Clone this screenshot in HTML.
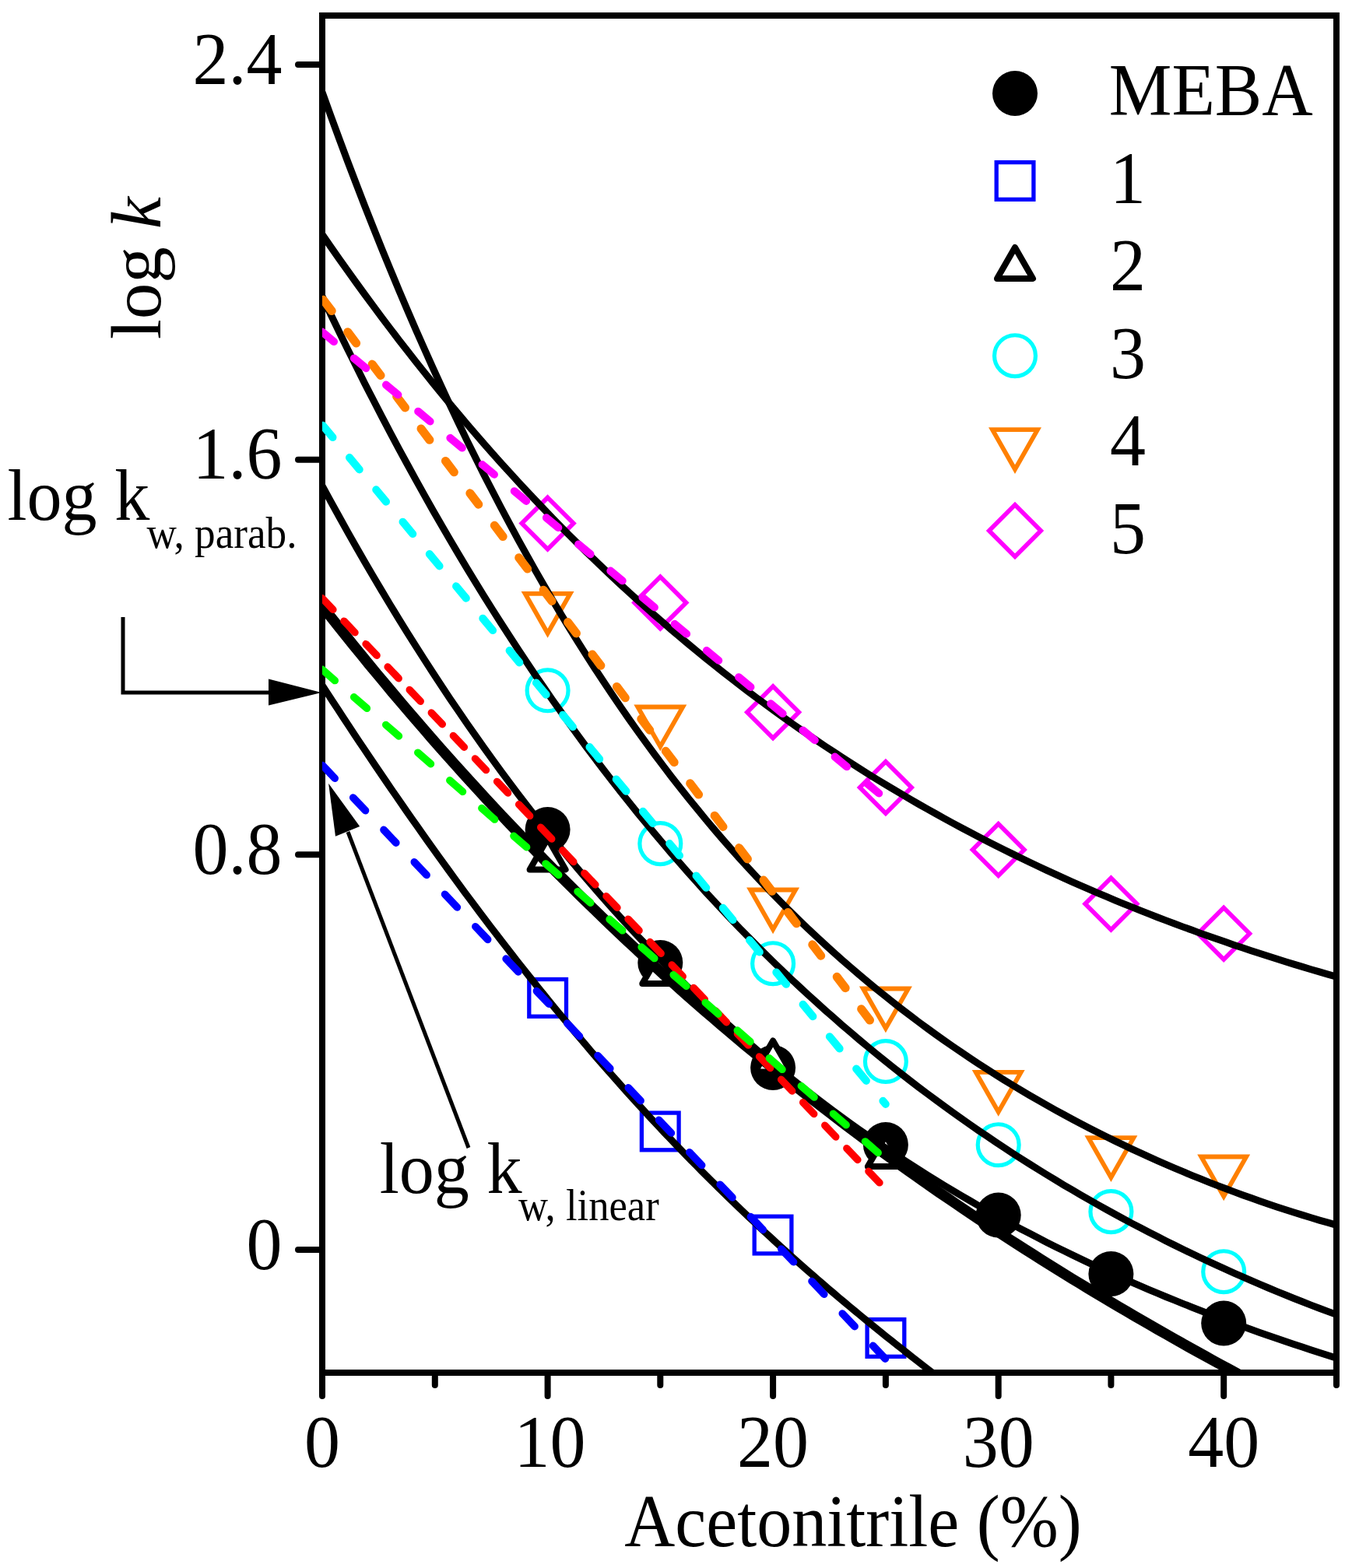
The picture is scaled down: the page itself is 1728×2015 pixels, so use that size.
<!DOCTYPE html>
<html><head><meta charset="utf-8"><title>log k vs Acetonitrile</title>
<style>html,body{margin:0;padding:0;background:#fff;}svg{display:block;}text{font-family:"Liberation Serif", "Times New Roman", serif;}</style>
</head><body>
<svg width="1728" height="2015" viewBox="0 0 1728 2015">
<rect width="100%" height="100%" fill="#fff"/>
<defs><clipPath id="pc"><rect x="414" y="20" width="1303" height="1744"/></clipPath></defs>
<rect x="414" y="20" width="1303" height="1744" fill="none" stroke="#000" stroke-width="8"/>
<circle cx="703.6" cy="1066" r="29" fill="#000"/>
<circle cx="848.3" cy="1237" r="29" fill="#000"/>
<circle cx="993.1" cy="1372" r="29" fill="#000"/>
<circle cx="1137.9" cy="1471" r="29" fill="#000"/>
<circle cx="1282.7" cy="1561.5" r="29" fill="#000"/>
<circle cx="1427.4" cy="1637" r="29" fill="#000"/>
<circle cx="1572.2" cy="1700.5" r="29" fill="#000"/>
<rect x="679.8" y="1258.5" width="47.7" height="47.7" fill="none" stroke="#0000FF" stroke-width="5.3"/>
<rect x="824.4" y="1430.1" width="47.7" height="47.7" fill="none" stroke="#0000FF" stroke-width="5.3"/>
<rect x="969.2" y="1563.2" width="47.7" height="47.7" fill="none" stroke="#0000FF" stroke-width="5.3"/>
<rect x="1114.1" y="1695.6" width="47.7" height="47.7" fill="none" stroke="#0000FF" stroke-width="5.3"/>
<path d="M703.6,1077.5 L726.6,1117.4 L680.6,1117.4 Z" fill="#fff" stroke="#000" stroke-width="8" stroke-linejoin="round"/>
<path d="M848.3,1224.2 L871.3,1264.1 L825.3,1264.1 Z" fill="#fff" stroke="#000" stroke-width="8" stroke-linejoin="round"/>
<path d="M993.1,1337.5 L1016.1,1377.4 L970.1,1377.4 Z" fill="#fff" stroke="#000" stroke-width="8" stroke-linejoin="round"/>
<path d="M1137.9,1459.2 L1160.9,1499.1 L1114.9,1499.1 Z" fill="#fff" stroke="#000" stroke-width="8" stroke-linejoin="round"/>
<circle cx="703.6" cy="887.3" r="26.45" fill="none" stroke="#00FFFF" stroke-width="5.2"/>
<circle cx="848.3" cy="1084.1" r="26.45" fill="none" stroke="#00FFFF" stroke-width="5.2"/>
<circle cx="993.1" cy="1238.2" r="26.45" fill="none" stroke="#00FFFF" stroke-width="5.2"/>
<circle cx="1137.9" cy="1364" r="26.45" fill="none" stroke="#00FFFF" stroke-width="5.2"/>
<circle cx="1282.7" cy="1471.2" r="26.45" fill="none" stroke="#00FFFF" stroke-width="5.2"/>
<circle cx="1427.4" cy="1557.1" r="26.45" fill="none" stroke="#00FFFF" stroke-width="5.2"/>
<circle cx="1572.2" cy="1634.2" r="26.45" fill="none" stroke="#00FFFF" stroke-width="5.2"/>
<path d="M674.6,762.8 L732.6,762.8 L703.6,813.8 Z" fill="none" stroke="#FF8000" stroke-width="5.8" stroke-linejoin="miter"/>
<path d="M819.3,908.5 L877.3,908.5 L848.3,959.5 Z" fill="none" stroke="#FF8000" stroke-width="5.8" stroke-linejoin="miter"/>
<path d="M964.1,1143.5 L1022.1,1143.5 L993.1,1194.5 Z" fill="none" stroke="#FF8000" stroke-width="5.8" stroke-linejoin="miter"/>
<path d="M1108.9,1270.5 L1166.9,1270.5 L1137.9,1321.5 Z" fill="none" stroke="#FF8000" stroke-width="5.8" stroke-linejoin="miter"/>
<path d="M1253.7,1377.9 L1311.7,1377.9 L1282.7,1428.9 Z" fill="none" stroke="#FF8000" stroke-width="5.8" stroke-linejoin="miter"/>
<path d="M1398.4,1462.1 L1456.4,1462.1 L1427.4,1513.1 Z" fill="none" stroke="#FF8000" stroke-width="5.8" stroke-linejoin="miter"/>
<path d="M1543.2,1486.5 L1601.2,1486.5 L1572.2,1537.5 Z" fill="none" stroke="#FF8000" stroke-width="5.8" stroke-linejoin="miter"/>
<path d="M703.6,639.4 L736.8000000000001,672.6 L703.6,705.8000000000001 L670.4,672.6 Z" fill="none" stroke="#FF00FF" stroke-width="5.7" stroke-linejoin="miter"/>
<path d="M848.3,741.1999999999999 L881.5,774.4 L848.3,807.6 L815.0999999999999,774.4 Z" fill="none" stroke="#FF00FF" stroke-width="5.7" stroke-linejoin="miter"/>
<path d="M993.1,882.0999999999999 L1026.3,915.3 L993.1,948.5 L959.9,915.3 Z" fill="none" stroke="#FF00FF" stroke-width="5.7" stroke-linejoin="miter"/>
<path d="M1137.9,978.8 L1171.1000000000001,1012 L1137.9,1045.2 L1104.7,1012 Z" fill="none" stroke="#FF00FF" stroke-width="5.7" stroke-linejoin="miter"/>
<path d="M1282.7,1058.8 L1315.9,1092 L1282.7,1125.2 L1249.5,1092 Z" fill="none" stroke="#FF00FF" stroke-width="5.7" stroke-linejoin="miter"/>
<path d="M1427.4,1128.3 L1460.6000000000001,1161.5 L1427.4,1194.7 L1394.2,1161.5 Z" fill="none" stroke="#FF00FF" stroke-width="5.7" stroke-linejoin="miter"/>
<path d="M1572.2,1166.6 L1605.4,1199.8 L1572.2,1233.0 L1539.0,1199.8 Z" fill="none" stroke="#FF00FF" stroke-width="5.7" stroke-linejoin="miter"/>
<g clip-path="url(#pc)" fill="none" stroke="#000" stroke-width="9" stroke-linejoin="round">
<path d="M414.0,118.4 L424.9,148.8 L435.9,178.6 L446.8,207.9 L457.8,236.7 L468.7,264.9 L479.7,292.7 L490.6,319.9 L501.6,346.6 L512.5,372.9 L523.5,398.7 L534.4,424.0 L545.4,448.8 L556.3,473.2 L567.3,497.2 L578.2,520.7 L589.2,543.7 L600.1,566.4 L611.1,588.6 L622.0,610.4 L633.0,631.8 L643.9,652.8 L654.9,673.4 L665.8,693.6 L676.8,713.4 L687.7,732.9 L698.7,752.0 L709.6,770.7 L720.6,789.1 L731.5,807.1 L742.5,824.8 L753.4,842.1 L764.4,859.2 L775.3,875.8 L786.3,892.2 L797.2,908.3 L808.2,924.1 L819.1,939.5 L830.1,954.7 L841.0,969.5 L852.0,984.1 L862.9,998.4 L873.9,1012.5 L884.8,1026.2 L895.8,1039.7 L906.7,1053.0 L917.7,1066.0 L928.6,1078.7 L939.6,1091.2 L950.5,1103.5 L961.5,1115.5 L972.4,1127.3 L983.4,1138.9 L994.3,1150.2 L1005.3,1161.4 L1016.2,1172.3 L1027.2,1183.0 L1038.1,1193.5 L1049.1,1203.8 L1060.0,1213.9 L1071.0,1223.9 L1081.9,1233.6 L1092.9,1243.2 L1103.8,1252.5 L1114.8,1261.8 L1125.7,1270.8 L1136.7,1279.6 L1147.6,1288.3 L1158.6,1296.9 L1169.5,1305.2 L1180.5,1313.5 L1191.4,1321.5 L1202.4,1329.5 L1213.3,1337.2 L1224.3,1344.9 L1235.2,1352.3 L1246.2,1359.7 L1257.1,1366.9 L1268.1,1374.0 L1279.0,1381.0 L1290.0,1387.8 L1300.9,1394.5 L1311.9,1401.1 L1322.8,1407.6 L1333.8,1413.9 L1344.7,1420.1 L1355.7,1426.3 L1366.6,1432.3 L1377.6,1438.2 L1388.5,1444.0 L1399.5,1449.7 L1410.4,1455.2 L1421.4,1460.7 L1432.3,1466.1 L1443.3,1471.4 L1454.2,1476.6 L1465.2,1481.7 L1476.1,1486.7 L1487.1,1491.6 L1498.0,1496.4 L1509.0,1501.1 L1519.9,1505.7 L1530.9,1510.3 L1541.8,1514.7 L1552.8,1519.1 L1563.7,1523.4 L1574.7,1527.5 L1585.6,1531.6 L1596.6,1535.7 L1607.5,1539.6 L1618.5,1543.5 L1629.4,1547.2 L1640.4,1550.9 L1651.3,1554.5 L1662.3,1558.0 L1673.2,1561.4 L1684.2,1564.8 L1695.1,1568.1 L1706.1,1571.2 L1717.0,1574.3"/>
<path d="M414.0,301.3 L424.9,317.1 L435.9,332.8 L446.8,348.2 L457.8,363.5 L468.7,378.5 L479.7,393.4 L490.6,408.1 L501.6,422.6 L512.5,436.9 L523.5,451.1 L534.4,465.0 L545.4,478.8 L556.3,492.4 L567.3,505.8 L578.2,519.1 L589.2,532.2 L600.1,545.1 L611.1,557.9 L622.0,570.5 L633.0,582.9 L643.9,595.2 L654.9,607.3 L665.8,619.3 L676.8,631.1 L687.7,642.7 L698.7,654.2 L709.6,665.6 L720.6,676.8 L731.5,687.8 L742.5,698.7 L753.4,709.5 L764.4,720.1 L775.3,730.6 L786.3,740.9 L797.2,751.1 L808.2,761.2 L819.1,771.1 L830.1,780.9 L841.0,790.6 L852.0,800.1 L862.9,809.6 L873.9,818.9 L884.8,828.0 L895.8,837.1 L906.7,846.0 L917.7,854.8 L928.6,863.5 L939.6,872.0 L950.5,880.5 L961.5,888.8 L972.4,897.0 L983.4,905.1 L994.3,913.1 L1005.3,921.0 L1016.2,928.8 L1027.2,936.5 L1038.1,944.0 L1049.1,951.5 L1060.0,958.9 L1071.0,966.1 L1081.9,973.3 L1092.9,980.3 L1103.8,987.3 L1114.8,994.2 L1125.7,1001.0 L1136.7,1007.6 L1147.6,1014.2 L1158.6,1020.7 L1169.5,1027.1 L1180.5,1033.5 L1191.4,1039.7 L1202.4,1045.8 L1213.3,1051.9 L1224.3,1057.9 L1235.2,1063.8 L1246.2,1069.6 L1257.1,1075.3 L1268.1,1080.9 L1279.0,1086.5 L1290.0,1092.0 L1300.9,1097.4 L1311.9,1102.8 L1322.8,1108.0 L1333.8,1113.2 L1344.7,1118.3 L1355.7,1123.4 L1366.6,1128.4 L1377.6,1133.3 L1388.5,1138.1 L1399.5,1142.9 L1410.4,1147.6 L1421.4,1152.2 L1432.3,1156.8 L1443.3,1161.3 L1454.2,1165.7 L1465.2,1170.1 L1476.1,1174.4 L1487.1,1178.7 L1498.0,1182.9 L1509.0,1187.0 L1519.9,1191.1 L1530.9,1195.1 L1541.8,1199.1 L1552.8,1203.0 L1563.7,1206.8 L1574.7,1210.6 L1585.6,1214.4 L1596.6,1218.0 L1607.5,1221.7 L1618.5,1225.3 L1629.4,1228.8 L1640.4,1232.3 L1651.3,1235.7 L1662.3,1239.1 L1673.2,1242.4 L1684.2,1245.7 L1695.1,1248.9 L1706.1,1252.1 L1717.0,1255.3"/>
<path d="M414.0,380.9 L424.9,404.0 L435.9,426.7 L446.8,449.1 L457.8,471.1 L468.7,492.9 L479.7,514.3 L490.6,535.4 L501.6,556.3 L512.5,576.8 L523.5,597.0 L534.4,616.9 L545.4,636.6 L556.3,656.0 L567.3,675.0 L578.2,693.8 L589.2,712.4 L600.1,730.6 L611.1,748.6 L622.0,766.4 L633.0,783.8 L643.9,801.0 L654.9,818.0 L665.8,834.7 L676.8,851.2 L687.7,867.4 L698.7,883.4 L709.6,899.2 L720.6,914.7 L731.5,930.0 L742.5,945.1 L753.4,960.0 L764.4,974.6 L775.3,989.0 L786.3,1003.2 L797.2,1017.2 L808.2,1031.0 L819.1,1044.6 L830.1,1058.0 L841.0,1071.2 L852.0,1084.2 L862.9,1097.0 L873.9,1109.6 L884.8,1122.1 L895.8,1134.3 L906.7,1146.4 L917.7,1158.3 L928.6,1170.0 L939.6,1181.6 L950.5,1193.0 L961.5,1204.2 L972.4,1215.2 L983.4,1226.1 L994.3,1236.9 L1005.3,1247.4 L1016.2,1257.9 L1027.2,1268.1 L1038.1,1278.3 L1049.1,1288.2 L1060.0,1298.1 L1071.0,1307.7 L1081.9,1317.3 L1092.9,1326.7 L1103.8,1336.0 L1114.8,1345.1 L1125.7,1354.1 L1136.7,1363.0 L1147.6,1371.8 L1158.6,1380.4 L1169.5,1388.9 L1180.5,1397.3 L1191.4,1405.5 L1202.4,1413.7 L1213.3,1421.7 L1224.3,1429.6 L1235.2,1437.4 L1246.2,1445.1 L1257.1,1452.7 L1268.1,1460.1 L1279.0,1467.5 L1290.0,1474.7 L1300.9,1481.9 L1311.9,1489.0 L1322.8,1495.9 L1333.8,1502.8 L1344.7,1509.5 L1355.7,1516.2 L1366.6,1522.8 L1377.6,1529.2 L1388.5,1535.6 L1399.5,1541.9 L1410.4,1548.1 L1421.4,1554.2 L1432.3,1560.3 L1443.3,1566.2 L1454.2,1572.1 L1465.2,1577.8 L1476.1,1583.5 L1487.1,1589.1 L1498.0,1594.7 L1509.0,1600.1 L1519.9,1605.5 L1530.9,1610.8 L1541.8,1616.0 L1552.8,1621.1 L1563.7,1626.2 L1574.7,1631.2 L1585.6,1636.1 L1596.6,1640.9 L1607.5,1645.7 L1618.5,1650.4 L1629.4,1655.0 L1640.4,1659.6 L1651.3,1664.0 L1662.3,1668.5 L1673.2,1672.8 L1684.2,1677.1 L1695.1,1681.2 L1706.1,1685.4 L1717.0,1689.4"/>
<path d="M414.0,624.3 L424.9,644.4 L435.9,664.3 L446.8,683.9 L457.8,703.2 L468.7,722.2 L479.7,741.0 L490.6,759.4 L501.6,777.7 L512.5,795.6 L523.5,813.3 L534.4,830.7 L545.4,847.9 L556.3,864.8 L567.3,881.4 L578.2,897.9 L589.2,914.0 L600.1,930.0 L611.1,945.6 L622.0,961.1 L633.0,976.3 L643.9,991.3 L654.9,1006.1 L665.8,1020.7 L676.8,1035.0 L687.7,1049.1 L698.7,1063.0 L709.6,1076.7 L720.6,1090.2 L731.5,1103.5 L742.5,1116.6 L753.4,1129.4 L764.4,1142.1 L775.3,1154.6 L786.3,1166.9 L797.2,1179.0 L808.2,1190.9 L819.1,1202.7 L830.1,1214.2 L841.0,1225.6 L852.0,1236.8 L862.9,1247.8 L873.9,1258.7 L884.8,1269.4 L895.8,1279.9 L906.7,1290.3 L917.7,1300.5 L928.6,1310.5 L939.6,1320.4 L950.5,1330.2 L961.5,1339.7 L972.4,1349.2 L983.4,1358.5 L994.3,1367.6 L1005.3,1376.6 L1016.2,1385.5 L1027.2,1394.2 L1038.1,1402.8 L1049.1,1411.3 L1060.0,1419.6 L1071.0,1427.8 L1081.9,1435.9 L1092.9,1443.8 L1103.8,1451.6 L1114.8,1459.3 L1125.7,1466.9 L1136.7,1474.4 L1147.6,1481.7 L1158.6,1489.0 L1169.5,1496.1 L1180.5,1503.1 L1191.4,1510.0 L1202.4,1516.8 L1213.3,1523.5 L1224.3,1530.1 L1235.2,1536.6 L1246.2,1543.0 L1257.1,1549.3 L1268.1,1555.5 L1279.0,1561.6 L1290.0,1567.6 L1300.9,1573.6 L1311.9,1579.4 L1322.8,1585.1 L1333.8,1590.8 L1344.7,1596.4 L1355.7,1601.9 L1366.6,1607.3 L1377.6,1612.6 L1388.5,1617.9 L1399.5,1623.1 L1410.4,1628.2 L1421.4,1633.2 L1432.3,1638.2 L1443.3,1643.1 L1454.2,1647.9 L1465.2,1652.6 L1476.1,1657.3 L1487.1,1661.9 L1498.0,1666.5 L1509.0,1670.9 L1519.9,1675.3 L1530.9,1679.7 L1541.8,1684.0 L1552.8,1688.2 L1563.7,1692.4 L1574.7,1696.5 L1585.6,1700.6 L1596.6,1704.6 L1607.5,1708.5 L1618.5,1712.4 L1629.4,1716.3 L1640.4,1720.0 L1651.3,1723.8 L1662.3,1727.5 L1673.2,1731.1 L1684.2,1734.7 L1695.1,1738.2 L1706.1,1741.7 L1717.0,1745.1"/>
<path d="M415.8,777.4 L425.8,790.2 L435.9,802.8 L445.9,815.3 L455.9,827.8 L466.0,840.1 L476.0,852.3 L486.0,864.5 L496.0,876.5 L506.1,888.5 L516.1,900.4 L526.1,912.2 L536.1,923.8 L546.2,935.4 L556.2,946.9 L566.2,958.4 L576.3,969.7 L586.3,980.9 L596.3,992.1 L606.3,1003.1 L616.4,1014.1 L626.4,1025.0 L636.4,1035.8 L646.4,1046.5 L656.5,1057.2 L666.5,1067.7 L676.5,1078.2 L686.6,1088.6 L696.6,1098.9 L706.6,1109.1 L716.6,1119.3 L726.7,1129.3 L736.7,1139.3 L746.7,1149.2 L756.7,1159.1 L766.8,1168.8 L776.8,1178.5 L786.8,1188.1 L796.9,1197.6 L806.9,1207.1 L816.9,1216.4 L826.9,1225.7 L837.0,1235.0 L847.0,1244.1 L857.0,1253.2 L867.0,1262.2 L877.1,1271.2 L887.1,1280.0 L897.1,1288.8 L907.2,1297.6 L917.2,1306.2 L927.2,1314.8 L937.2,1323.3 L947.3,1331.8 L957.3,1340.2 L967.3,1348.5 L977.3,1356.8 L987.4,1365.0 L997.4,1373.1 L1007.4,1381.2 L1017.4,1389.2 L1027.5,1397.2 L1037.5,1405.1 L1047.5,1412.9 L1057.6,1420.7 L1067.6,1428.4 L1077.6,1436.0 L1087.6,1443.6 L1097.7,1451.2 L1107.7,1458.6 L1117.7,1466.1 L1127.7,1473.4 L1137.8,1480.7 L1147.8,1488.0 L1157.8,1495.2 L1167.9,1502.3 L1177.9,1509.4 L1187.9,1516.5 L1197.9,1523.5 L1208.0,1530.4 L1218.0,1537.3 L1228.0,1544.1 L1238.0,1550.9 L1248.1,1557.7 L1258.1,1564.4 L1268.1,1571.0 L1278.2,1577.6 L1288.2,1584.2 L1298.2,1590.7 L1308.2,1597.1 L1318.3,1603.6 L1328.3,1609.9 L1338.3,1616.3 L1348.3,1622.6 L1358.4,1628.8 L1368.4,1635.0 L1378.4,1641.2 L1388.5,1647.3 L1398.5,1653.4 L1408.5,1659.4 L1418.5,1665.4 L1428.6,1671.4 L1438.6,1677.3 L1448.6,1683.2 L1458.7,1689.1 L1468.7,1694.9 L1478.7,1700.7 L1488.7,1706.5 L1498.8,1712.2 L1508.8,1717.9 L1518.8,1723.5 L1528.9,1729.2 L1538.9,1734.8 L1548.9,1740.3 L1558.9,1745.9 L1569.0,1751.4 L1579.0,1756.8 L1589.0,1762.3 L1592.2,1764.0"/>
<path d="M412.2,780.3 L422.2,793.0 L432.3,805.7 L442.3,818.2 L452.3,830.7 L462.4,843.0 L472.4,855.3 L482.5,867.4 L492.5,879.5 L502.5,891.5 L512.6,903.4 L522.6,915.1 L532.7,926.8 L542.7,938.4 L552.7,950.0 L562.8,961.4 L572.8,972.7 L582.9,984.0 L592.9,995.2 L602.9,1006.2 L613.0,1017.2 L623.0,1028.1 L633.1,1038.9 L643.1,1049.7 L653.1,1060.3 L663.2,1070.9 L673.2,1081.4 L683.3,1091.8 L693.3,1102.1 L703.3,1112.3 L713.4,1122.5 L723.4,1132.6 L733.5,1142.6 L743.5,1152.5 L753.5,1162.4 L763.6,1172.1 L773.6,1181.8 L783.7,1191.4 L793.7,1201.0 L803.7,1210.4 L813.8,1219.8 L823.8,1229.1 L833.9,1238.4 L843.9,1247.5 L853.9,1256.6 L864.0,1265.6 L874.0,1274.6 L884.1,1283.5 L894.1,1292.3 L904.1,1301.0 L914.2,1309.7 L924.2,1318.3 L934.3,1326.9 L944.3,1335.3 L954.3,1343.7 L964.4,1352.1 L974.4,1360.4 L984.5,1368.6 L994.5,1376.7 L1004.5,1384.8 L1014.6,1392.8 L1024.6,1400.8 L1034.7,1408.7 L1044.7,1416.5 L1054.7,1424.3 L1064.8,1432.0 L1074.8,1439.7 L1084.9,1447.3 L1094.9,1454.8 L1104.9,1462.3 L1115.0,1469.8 L1125.0,1477.1 L1135.1,1484.4 L1145.1,1491.7 L1155.1,1498.9 L1165.2,1506.1 L1175.2,1513.2 L1185.3,1520.2 L1195.3,1527.2 L1205.3,1534.2 L1215.4,1541.1 L1225.4,1547.9 L1235.5,1554.7 L1245.5,1561.5 L1255.5,1568.2 L1265.6,1574.8 L1275.6,1581.5 L1285.7,1588.0 L1295.7,1594.5 L1305.7,1601.0 L1315.8,1607.4 L1325.8,1613.8 L1335.9,1620.2 L1345.9,1626.5 L1355.9,1632.7 L1366.0,1638.9 L1376.0,1645.1 L1386.1,1651.2 L1396.1,1657.3 L1406.1,1663.4 L1416.2,1669.4 L1426.2,1675.4 L1436.3,1681.3 L1446.3,1687.2 L1456.3,1693.1 L1466.4,1698.9 L1476.4,1704.7 L1486.5,1710.5 L1496.5,1716.2 L1506.5,1721.9 L1516.6,1727.6 L1526.6,1733.2 L1536.6,1738.8 L1546.7,1744.4 L1556.7,1749.9 L1566.8,1755.4 L1576.8,1760.9 L1582.5,1764.0"/>
<path d="M414.0,880.6 L420.8,891.1 L427.5,901.5 L434.3,911.8 L441.1,922.2 L447.9,932.4 L454.6,942.7 L461.4,952.9 L468.2,963.0 L474.9,973.1 L481.7,983.1 L488.5,993.1 L495.3,1003.1 L502.0,1013.0 L508.8,1022.8 L515.6,1032.6 L522.3,1042.4 L529.1,1052.1 L535.9,1061.7 L542.7,1071.3 L549.4,1080.9 L556.2,1090.4 L563.0,1099.8 L569.7,1109.2 L576.5,1118.5 L583.3,1127.8 L590.1,1137.1 L596.8,1146.3 L603.6,1155.4 L610.4,1164.5 L617.1,1173.5 L623.9,1182.5 L630.7,1191.4 L637.5,1200.3 L644.2,1209.1 L651.0,1217.8 L657.8,1226.6 L664.5,1235.2 L671.3,1243.8 L678.1,1252.4 L684.9,1260.9 L691.6,1269.3 L698.4,1277.7 L705.2,1286.0 L711.9,1294.3 L718.7,1302.5 L725.5,1310.7 L732.3,1318.8 L739.0,1326.9 L745.8,1334.9 L752.6,1342.9 L759.3,1350.8 L766.1,1358.7 L772.9,1366.5 L779.7,1374.2 L786.4,1381.9 L793.2,1389.6 L800.0,1397.2 L806.7,1404.7 L813.5,1412.2 L820.3,1419.6 L827.1,1427.0 L833.8,1434.4 L840.6,1441.7 L847.4,1448.9 L854.1,1456.1 L860.9,1463.2 L867.7,1470.3 L874.5,1477.3 L881.2,1484.3 L888.0,1491.3 L894.8,1498.2 L901.5,1505.0 L908.3,1511.8 L915.1,1518.5 L921.9,1525.2 L928.6,1531.9 L935.4,1538.5 L942.2,1545.1 L948.9,1551.6 L955.7,1558.0 L962.5,1564.5 L969.3,1570.8 L976.0,1577.2 L982.8,1583.5 L989.6,1589.7 L996.3,1595.9 L1003.1,1602.1 L1009.9,1608.2 L1016.7,1614.3 L1023.4,1620.3 L1030.2,1626.3 L1037.0,1632.3 L1043.7,1638.2 L1050.5,1644.1 L1057.3,1650.0 L1064.1,1655.8 L1070.8,1661.5 L1077.6,1667.3 L1084.4,1673.0 L1091.1,1678.6 L1097.9,1684.3 L1104.7,1689.9 L1111.5,1695.4 L1118.2,1701.0 L1125.0,1706.5 L1131.8,1712.0 L1138.5,1717.4 L1145.3,1722.8 L1152.1,1728.2 L1158.9,1733.6 L1165.6,1738.9 L1172.4,1744.2 L1179.2,1749.5 L1185.9,1754.7 L1192.7,1760.0 L1198.0,1764.0"/>
</g>
<g clip-path="url(#pc)" fill="none" stroke-linecap="round">
<path d="M414,383.5 L1137.8,1337.8" stroke="#FF8000" stroke-width="11" stroke-dasharray="18 34.0" stroke-dashoffset="-2.2"/>
<path d="M414,426.6 L1137.8,1026.6" stroke="#FF00FF" stroke-width="10" stroke-dasharray="20 33.5" stroke-dashoffset="-53.0"/>
<path d="M414,545.8 L1137.8,1418.9" stroke="#00FFFF" stroke-width="10" stroke-dasharray="20 33.7" stroke-dashoffset="-1.1"/>
<path d="M414,768.8 L1137.8,1528.1" stroke="#FF0000" stroke-width="9.4" stroke-dasharray="20.4 20.3" stroke-dashoffset="-40.5"/>
<path d="M414,860.4 L1137.8,1489.8" stroke="#00FF00" stroke-width="9.6" stroke-dasharray="22 32.4" stroke-dashoffset="-53.95"/>
<path d="M414,983.1 L1137.8,1746.5" stroke="#0000FF" stroke-width="9.6" stroke-dasharray="23 34.1" stroke-dashoffset="-0.6"/>
</g>
<path d="M383,83 H414 M383,590.7 H414 M383,1098.3 H414 M383,1606 H414 M414.0,1764 V1794 M703.6,1764 V1794 M993.1,1764 V1794 M1282.7,1764 V1794 M1572.2,1764 V1794 M558.8,1764 V1780 M848.3,1764 V1780 M1137.9,1764 V1780 M1427.4,1764 V1780 M1717.0,1764 V1780" stroke="#000" stroke-width="8" stroke-linecap="round" fill="none"/>
<circle cx="1304" cy="120" r="29" fill="#000"/>
<rect x="1280.2" y="208.6" width="47.7" height="47.7" fill="none" stroke="#0000FF" stroke-width="5.3"/>
<path d="M1304,318.0 L1327,357.9 L1281,357.9 Z" fill="#fff" stroke="#000" stroke-width="8" stroke-linejoin="round"/>
<circle cx="1304" cy="457.2" r="26.45" fill="none" stroke="#00FFFF" stroke-width="5.2"/>
<path d="M1275.0,552.1 L1333.0,552.1 L1304,603.1 Z" fill="none" stroke="#FF8000" stroke-width="5.8" stroke-linejoin="miter"/>
<path d="M1304,648.8 L1337.2,682 L1304,715.2 L1270.8,682 Z" fill="none" stroke="#FF00FF" stroke-width="5.7" stroke-linejoin="miter"/>
<g font-family='"Liberation Serif", "Times New Roman", serif' fill="#000"><text transform="translate(362.5,107.5) scale(1.0,1.045)" font-size="92" text-anchor="end" >2.4</text><text transform="translate(362.5,615.2) scale(1.0,1.045)" font-size="92" text-anchor="end" >1.6</text><text transform="translate(362.5,1122.8) scale(1.0,1.045)" font-size="92" text-anchor="end" >0.8</text><text transform="translate(362.5,1630.5) scale(1.0,1.045)" font-size="92" text-anchor="end" >0</text><text transform="translate(414.0,1884.5) scale(1.0,1.045)" font-size="92" text-anchor="middle" >0</text><text transform="translate(706.6,1884.5) scale(1.0,1.045)" font-size="92" text-anchor="middle" >10</text><text transform="translate(993.1,1884.5) scale(1.0,1.045)" font-size="92" text-anchor="middle" >20</text><text transform="translate(1282.7,1884.5) scale(1.0,1.045)" font-size="92" text-anchor="middle" >30</text><text transform="translate(1572.2,1884.5) scale(1.0,1.045)" font-size="92" text-anchor="middle" >40</text><text transform="translate(1096,1986.5) scale(0.979,1.035)" font-size="92" text-anchor="middle" >Acetonitrile (%)</text><text transform="translate(205.5,344.5) rotate(-90) scale(1.01,1)" font-size="92" text-anchor="middle">log <tspan font-style="italic">k</tspan></text><text transform="translate(1424.8,148) scale(0.986,1.037)" font-size="92" text-anchor="start" >MEBA</text><text transform="translate(1426,260.9) scale(1.0,1.045)" font-size="92" text-anchor="start" >1</text><text transform="translate(1426,373.3) scale(1.0,1.045)" font-size="92" text-anchor="start" >2</text><text transform="translate(1426,485.7) scale(1.0,1.045)" font-size="92" text-anchor="start" >3</text><text transform="translate(1426,598.1) scale(1.0,1.045)" font-size="92" text-anchor="start" >4</text><text transform="translate(1426,710.5) scale(1.0,1.045)" font-size="92" text-anchor="start" >5</text><text transform="translate(9.4,668.3) scale(0.98,1.01)" font-size="92" text-anchor="start" >log k</text><text transform="translate(188.5,703.8) scale(0.95,1.0)" font-size="56" text-anchor="start" >w, parab.</text><text transform="translate(487.7,1533.1) scale(0.98,1.01)" font-size="92" text-anchor="start" >log k</text><text transform="translate(666,1567.8) scale(0.94,1.0)" font-size="56" text-anchor="start" >w, linear</text></g>
<path d="M158,793 V890 H350" fill="none" stroke="#000" stroke-width="5"/>
<path d="M345,872.4 L413,890 L345,906.5 Z" fill="#000"/>
<path d="M602,1475 L447,1069" fill="none" stroke="#000" stroke-width="5"/>
<path d="M422.1,1006.7 L431,1074.8 L462.2,1062.1 Z" fill="#000"/>
</svg>
</body></html>
